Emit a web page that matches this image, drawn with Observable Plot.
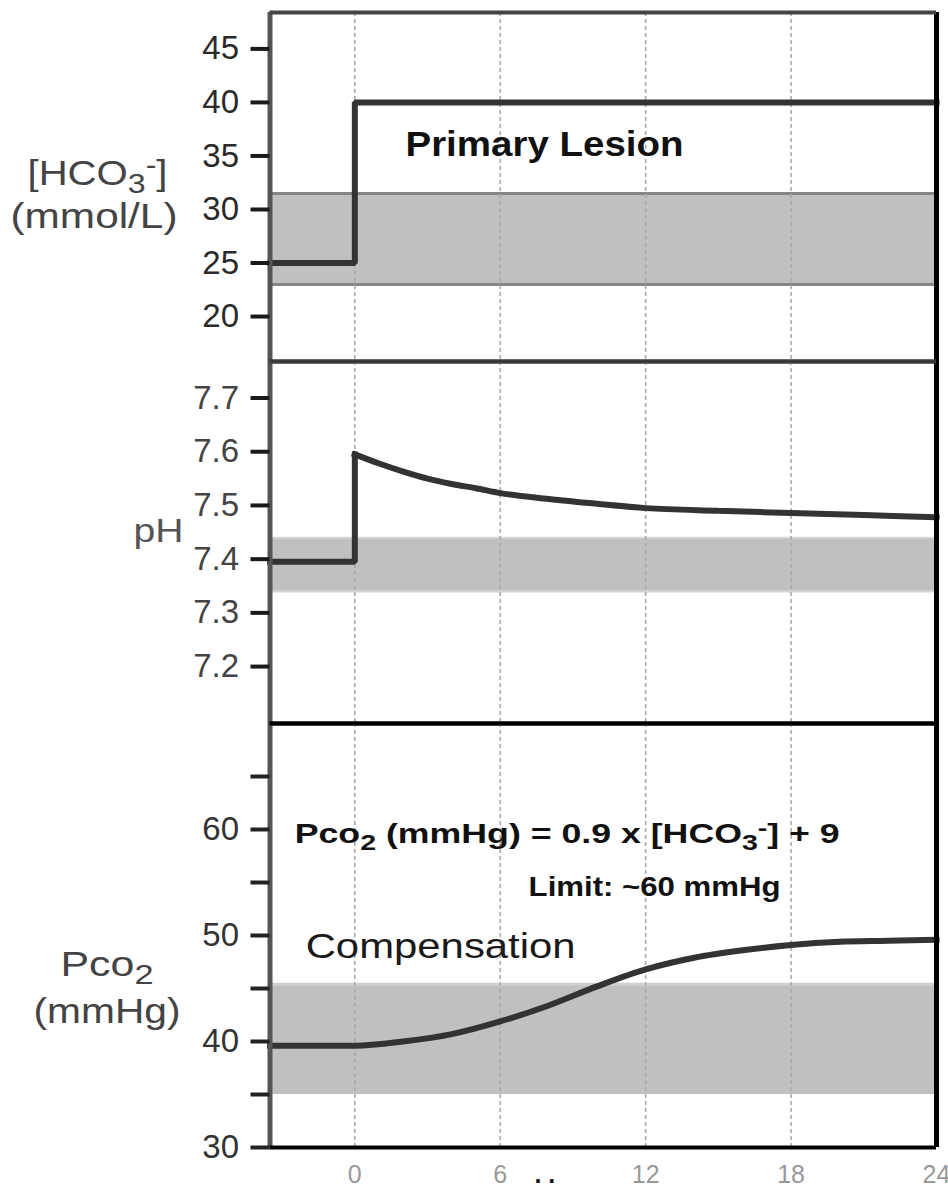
<!DOCTYPE html>
<html>
<head>
<meta charset="utf-8">
<script src="https://cdn.jsdelivr.net/npm/d3@7"></script>
<script src="https://cdn.jsdelivr.net/npm/@observablehq/plot@0.6"></script>
<style>
  html, body { margin: 0; padding: 0; background: #fff; }
  #chart { width: 948px; height: 1191px; overflow: hidden; position: relative; background: #fff; }
  #chart svg { display: block; }
</style>
</head>
<body>
<div id="chart"></div>
<script>
// ---------------- data ----------------
const xDomain = [-3.5, 24];
const hourTicks = [0, 6, 12, 18, 24];
const gridHours = [0, 6, 12, 18];

// [HCO3-] panel
const hcoDomain = [15.8, 48.4];
const hcoTicks = [20, 25, 30, 35, 40, 45];
const hcoBand = [23, 31.5];
const hcoHours = [-3.5, 0, 0, 24];
const hcoValues = [25, 25, 40, 40];
const hcoTitle = ["[HCO3-]", "(mmol/L)"];
const hcoNote = ["Primary Lesion"];

// pH panel
const phDomain = [7.094, 7.768];
const phTicks = [7.2, 7.3, 7.4, 7.5, 7.6, 7.7];
const phBand = [7.34, 7.44];
const phStepHours = [-3.5, 0, 0];
const phStepValues = [7.395, 7.395, 7.595];
const phHours = [0, 1, 2, 3, 4, 5, 6, 8, 10, 12, 15, 18, 21, 24];
const phValues = [7.595, 7.578, 7.563, 7.550, 7.540, 7.532, 7.523, 7.512, 7.503, 7.495, 7.490, 7.486, 7.482, 7.478];
const phTitle = ["pH"];

// Pco2 panel
const pcoDomain = [30, 70];
const pcoTicks = [30, 35, 40, 45, 50, 55, 60, 65];
const pcoLabelTicks = [30, 40, 50, 60];
const pcoBand = [35, 45.4];
const pcoHours = [-3.5, 0, 2, 4, 6, 8, 10, 12, 14, 16, 18, 20, 22, 24];
const pcoValues = [39.6, 39.6, 40.0, 40.7, 41.9, 43.4, 45.2, 46.8, 47.9, 48.6, 49.1, 49.4, 49.5, 49.6];
const pcoTitle = ["Pco2", "(mmHg)"];
const pcoNotes = ["Pco2 (mmHg) = 0.9 x [HCO3-] + 9", "Limit: ~60 mmHg", "Compensation"];
const bottomDots = [". ."];

// ---------------- helpers ----------------
const toRows = (hours, values) => hours.map((h, i) => ({hour: h, value: values[i]}));
const FONT = "'Liberation Sans', Arial, Helvetica, sans-serif";
const W = 948, ML = 269.5, MR = 12;

const baseStyle = {fontFamily: FONT, fontSize: "33px", overflow: "visible", background: "transparent", color: "#333"};

// rich text (sub/superscripts) and stretched widths, applied after rendering
const richParts = {
  "[HCO3-]": [["[HCO"], ["3", "sub"], ["-", "sup"], ["]"]],
  "Pco2": [["Pco"], ["2", "sub"]],
  "Pco2 (mmHg) = 0.9 x [HCO3-] + 9": [["Pco"], ["2", "sub"], [" (mmHg) = 0.9 x [HCO"], ["3", "sub"], ["-", "sup"], ["] + 9"]]
};
const fitWidth = {
  "Primary Lesion": 278,
  "Pco2 (mmHg) = 0.9 x [HCO3-] + 9": 545,
  "Limit: ~60 mmHg": 252,
  "Compensation": 270,
  "[HCO3-]": 140,
  "(mmol/L)": 167,
  "pH": 50,
  "Pco2": 93,
  "(mmHg)": 147
};
const fontSizeOf = {
  "Primary Lesion": 35,
  "Pco2 (mmHg) = 0.9 x [HCO3-] + 9": 28,
  "Limit: ~60 mmHg": 28,
  "Compensation": 35,
  "[HCO3-]": 35, "(mmol/L)": 35, "pH": 34, "Pco2": 35, "(mmHg)": 35
};

function enrich(svg) {
  d3.select(svg).selectAll("text").each(function () {
    const key = this.textContent;
    if (richParts[key]) {
      const fs = fontSizeOf[key];
      this.textContent = "";
      let off = 0;
      for (const [s, kind] of richParts[key]) {
        const target = kind === "sub" ? 0.24 * fs : kind === "sup" ? -0.3 * fs : 0;
        const ts = d3.select(this).append("tspan").text(s);
        if (target !== off) ts.attr("dy", target - off);
        if (kind) ts.attr("font-size", fs * 0.8);
        off = target;
      }
    }
    if (fitWidth[key]) {
      this.setAttribute("textLength", fitWidth[key]);
      this.setAttribute("lengthAdjust", "spacingAndGlyphs");
      this.style.whiteSpace = "pre";
    }
  });
  return svg;
}

const frameMarks = (domainY, topStroke, bottomStroke) => [
  Plot.ruleX([xDomain[0]], {stroke: "#555", strokeWidth: 5}),
  Plot.ruleX([xDomain[1]], {stroke: "#000", strokeWidth: 5}),
  ...(topStroke ? [Plot.ruleY([domainY[1]], {stroke: topStroke, strokeWidth: 4})] : []),
  ...(bottomStroke ? [Plot.ruleY([domainY[0]], {stroke: bottomStroke, strokeWidth: 4})] : [])
];

const gridMark = () => Plot.ruleX(gridHours, {stroke: "#aaa", strokeWidth: 1.6, strokeDasharray: "4,3"});
const lineStyle = {x: "hour", y: "value", stroke: "#333", strokeWidth: 6, strokeLinejoin: "miter", strokeLinecap: "square"};
const titleStyle = {text: d => d, frameAnchor: "top-left", textAnchor: "start", lineAnchor: "bottom", fontSize: 35, fill: "#444"};

// ---------------- panel 1: [HCO3-] ----------------
const p1 = Plot.plot({
  width: W, height: 361, marginTop: 12, marginBottom: 0, marginLeft: ML, marginRight: MR,
  style: baseStyle,
  x: {domain: xDomain, axis: null},
  y: {domain: hcoDomain},
  marks: [
    Plot.rect([hcoBand], {x1: xDomain[0], x2: xDomain[1], y1: d => d[0], y2: d => d[1], fill: "#c0c0c0"}),
    Plot.ruleY(hcoBand, {stroke: "#858585", strokeWidth: 3}),
    gridMark(),
    Plot.line(toRows(hcoHours, hcoValues), lineStyle),
    ...frameMarks(hcoDomain, "#444", "#3a3a3a"),
    Plot.axisY(hcoTicks, {tickSize: 19, tickPadding: 12, strokeWidth: 4, stroke: "#1a1a1a", fill: "#2a2a2a", fontSize: 33, label: null}),
    Plot.text(hcoNote, {x: 2.09, y: 35.04, text: d => d, textAnchor: "start", lineAnchor: "bottom", fontSize: 35, fontWeight: "bold", fill: "#111"}),
    Plot.text([hcoTitle[0]], {...titleStyle, dx: -242.5, dy: 172}),
    Plot.text([hcoTitle[1]], {...titleStyle, dx: -259.5, dy: 215})
  ]
});

// ---------------- panel 2: pH ----------------
const p2 = Plot.plot({
  width: W, height: 362, marginTop: 0, marginBottom: 0, marginLeft: ML, marginRight: MR,
  style: baseStyle,
  x: {domain: xDomain, axis: null},
  y: {domain: phDomain},
  marks: [
    Plot.rect([phBand], {x1: xDomain[0], x2: xDomain[1], y1: d => d[0], y2: d => d[1], fill: "#c0c0c0"}),
    Plot.ruleY(phBand, {stroke: "#d6d6d6", strokeWidth: 2}),
    gridMark(),
    Plot.line(toRows(phStepHours, phStepValues), lineStyle),
    Plot.line(toRows(phHours, phValues), {...lineStyle, curve: "monotone-x"}),
    ...frameMarks(phDomain, "#3a3a3a", "#000"),
    Plot.axisY(phTicks, {tickSize: 19, tickPadding: 12, strokeWidth: 4, stroke: "#1a1a1a", fill: "#444", fontSize: 33, tickFormat: d3.format(".1f"), label: null}),
    Plot.text([phTitle[0]], {...titleStyle, fontSize: 34, fill: "#555", dx: -136.5, dy: 180})
  ]
});

// ---------------- panel 3: Pco2 ----------------
const p3 = Plot.plot({
  width: W, height: 468, marginTop: 0, marginBottom: 44, marginLeft: ML, marginRight: MR,
  style: baseStyle,
  x: {domain: xDomain},
  y: {domain: pcoDomain},
  marks: [
    Plot.rect([pcoBand], {x1: xDomain[0], x2: xDomain[1], y1: d => d[0], y2: d => d[1], fill: "#c0c0c0"}),
    Plot.ruleY([pcoBand[1]], {stroke: "#d0d0d0", strokeWidth: 3}),
    gridMark(),
    Plot.line(toRows(pcoHours, pcoValues), {...lineStyle, curve: "monotone-x"}),
    ...frameMarks(pcoDomain, "#000", "#000"),
    Plot.axisY(pcoTicks, {tickSize: 19, tickPadding: 12, strokeWidth: 4, stroke: "#222", fill: "#333", fontSize: 33,
      tickFormat: d => pcoLabelTicks.includes(d) ? String(d) : "", label: null}),
    Plot.axisX(hourTicks, {tickSize: 0, tickPadding: 18, fill: "#999", fontSize: 25, label: null}),
    Plot.text(bottomDots, {x: 7.41, frameAnchor: "bottom", text: d => d, textAnchor: "start", lineAnchor: "bottom", dy: 35, fontSize: 25, fontWeight: "bold", fill: "#111"}),
    Plot.text([pcoNotes[0]], {x: -2.48, y: 58.68, text: d => d, textAnchor: "start", lineAnchor: "bottom", fontSize: 28, fontWeight: "bold", fill: "#111"}),
    Plot.text([pcoNotes[1]], {x: 7.17, y: 53.77, text: d => d, textAnchor: "start", lineAnchor: "bottom", fontSize: 28, fontWeight: "bold", fill: "#111"}),
    Plot.text([pcoNotes[2]], {x: -2.03, y: 47.92, text: d => d, textAnchor: "start", lineAnchor: "bottom", fontSize: 35, fill: "#1a1a1a"}),
    Plot.text([pcoTitle[0]], {...titleStyle, dx: -209.5, dy: 252}),
    Plot.text([pcoTitle[1]], {...titleStyle, dx: -236.5, dy: 299})
  ]
});

const chart = document.getElementById("chart");
[p1, p2, p3].forEach(p => chart.appendChild(enrich(p)));
</script>
</body>
</html>
